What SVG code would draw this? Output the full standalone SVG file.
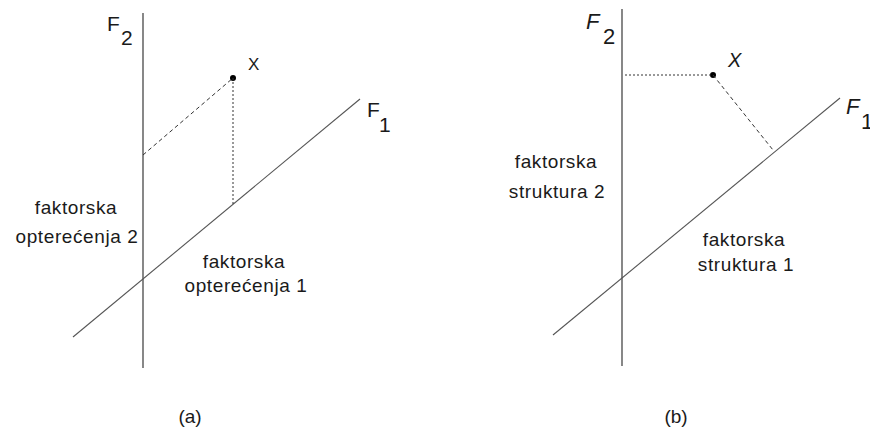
<svg xmlns="http://www.w3.org/2000/svg" width="870" height="429" viewBox="0 0 870 429">
<style>
  text { font-family: "Liberation Sans", Arial, sans-serif; fill: #1a1a1a; }
  .lbl { font-size: 19px; letter-spacing: 0.6px; text-anchor: middle; }
  .axis { stroke: #6a6a6a; stroke-width: 1.6; fill: none; }
  .fline { stroke: #555; stroke-width: 1.1; fill: none; }
  .dash { stroke: #333; stroke-width: 1; stroke-dasharray: 4 3; fill: none; }
  .dot { stroke: #333; stroke-width: 1; stroke-dasharray: 2 2; fill: none; }
  .it { font-style: italic; }
</style>
<rect width="870" height="429" fill="#ffffff"/>
<g id="panel-a">
  <g id="axis-f2-a">
    <line class="axis" x1="143" y1="13" x2="143" y2="368"/>
    <text x="107" y="31" font-size="21">F</text>
    <text x="121" y="45" font-size="21">2</text>
  </g>
  <g id="axis-f1-a">
    <line class="fline" x1="73" y1="337" x2="360" y2="99"/>
    <text x="367" y="117" font-size="21">F</text>
    <text x="379" y="132" font-size="21">1</text>
  </g>
  <g id="point-x-a">
    <circle cx="233" cy="78" r="3" fill="#000"/>
    <text x="248" y="70" font-size="17">X</text>
  </g>
  <g id="connectors-a">
    <line class="dash" x1="143" y1="155" x2="233" y2="78"/>
    <line class="dot" x1="233" y1="78" x2="233" y2="204"/>
  </g>
  <g id="label-a2">
    <text class="lbl" x="76" y="214">faktorska</text>
    <text class="lbl" x="77" y="243">opterećenja  2</text>
  </g>
  <g id="label-a1">
    <text class="lbl" x="244" y="268">faktorska</text>
    <text class="lbl" x="246" y="292">opterećenja  1</text>
  </g>
  <text x="190" y="423" font-size="19" text-anchor="middle">(a)</text>
</g>
<g id="panel-b">
  <g id="axis-f2-b">
    <line class="axis" x1="622" y1="9" x2="622" y2="366"/>
    <text class="it" x="586" y="29" font-size="22">F</text>
    <text x="603" y="44" font-size="22">2</text>
  </g>
  <g id="axis-f1-b">
    <line class="fline" x1="553" y1="335" x2="840" y2="98"/>
    <text class="it" x="846" y="114" font-size="22">F</text>
    <text x="861" y="129" font-size="22">1</text>
  </g>
  <g id="point-x-b">
    <circle cx="713" cy="75" r="3" fill="#000"/>
    <text class="it" x="728" y="67" font-size="20">X</text>
  </g>
  <g id="connectors-b">
    <line class="dot" x1="625" y1="75" x2="713" y2="75"/>
    <line class="dash" x1="713" y1="75" x2="773" y2="150"/>
  </g>
  <g id="label-b2">
    <text class="lbl" x="556" y="168">faktorska</text>
    <text class="lbl" x="557" y="198">struktura  2</text>
  </g>
  <g id="label-b1">
    <text class="lbl" x="744" y="246">faktorska</text>
    <text class="lbl" x="746" y="271">struktura  1</text>
  </g>
  <text x="676" y="423" font-size="19" text-anchor="middle">(b)</text>
</g>
</svg>
